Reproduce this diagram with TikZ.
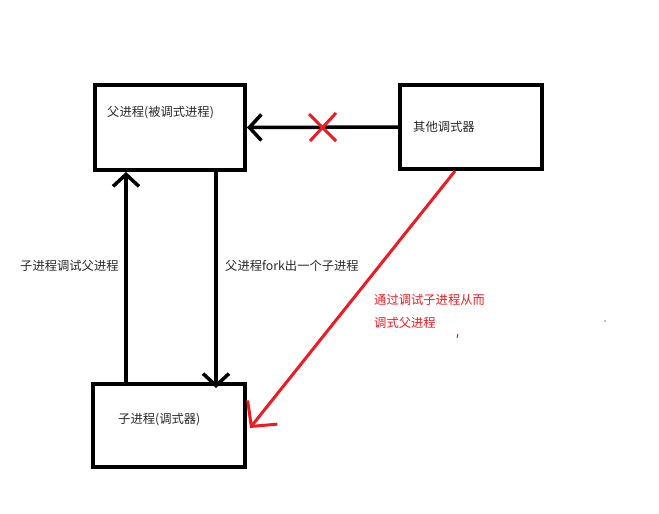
\documentclass[tikz,border=0pt]{standalone}
\usepackage{fontspec}
\setmainfont{Noto Sans CJK SC}
\usetikzlibrary{arrows.meta,calc}
\definecolor{pred}{RGB}{237,28,36}
\definecolor{txt}{RGB}{40,40,40}
\tikzset{
  box/.style={draw=black,line width=4pt,minimum width=#1,inner sep=0pt},
  lbl/.style={font=\fontsize{12.3pt}{14pt}\selectfont,text=txt,inner sep=0pt,anchor=west},
  rlbl/.style={font=\fontsize{12.3pt}{14pt}\selectfont,text=pred,inner sep=0pt,anchor=west},
  arr/.style={line width=3.5pt,-{Straight Barb[length=12pt,width=26pt]}},
  rarr/.style={pred,line width=3pt,-{Straight Barb[length=18pt,width=38pt]}},
}
\begin{document}
\begin{tikzpicture}[x=1pt,y=-1pt]
\useasboundingbox (0,0) rectangle (659,514);
% boxes
\node[box=150pt,minimum height=85pt] (p) at (170,127.5) {};
\node[box=142pt,minimum height=84pt] (o) at (471,127) {};
\node[box=152pt,minimum height=83pt] (c) at (169,425.5) {};
% texts
\node[lbl] (tp) at (107,113) {父进程(被调式进程)};
\node[lbl] (to) at (413,127) {其他调式器};
\node[lbl] (tc) at (118,420) {子进程(调式器)};
\node[lbl] (tl) at (20,266) {子进程调试父进程};
\node[lbl] (tr) at (225,266) {父进程fork出一个子进程};
\node[rlbl] (tr1) at (374,300) {通过调试子进程从而};
\node[rlbl] (tr2) at (374,323) {调式父进程};
% helper coordinates
\coordinate (xu) at (126,0);
\coordinate (xd) at (216,0);
\coordinate (xr) at (455,0);
\coordinate (yr) at (0,428);
\coordinate (xc) at (323,127);
% connectors
\draw[arr] (o.west) -- (p.east);
\draw[arr] (c.north -| xu) -- (p.south -| xu);
\draw[arr,shorten >=-6pt] (p.south -| xd) -- (c.north -| xd);
\draw[rarr] (o.south -| xr) -- ($(c.east |- yr)+(3,0)$);
% red cross
\draw[pred,line width=3pt] ($(xc)+(-14,-13)$) -- ($(xc)+(13,14)$)
                           ($(xc)+(13,-14)$) -- ($(xc)+(-13,14)$);
% stray marks
\draw[pred,line width=1pt] (458,334) -- (457,338);
\fill[gray] (605,321) circle (0.8pt);
\end{tikzpicture}
\end{document}
